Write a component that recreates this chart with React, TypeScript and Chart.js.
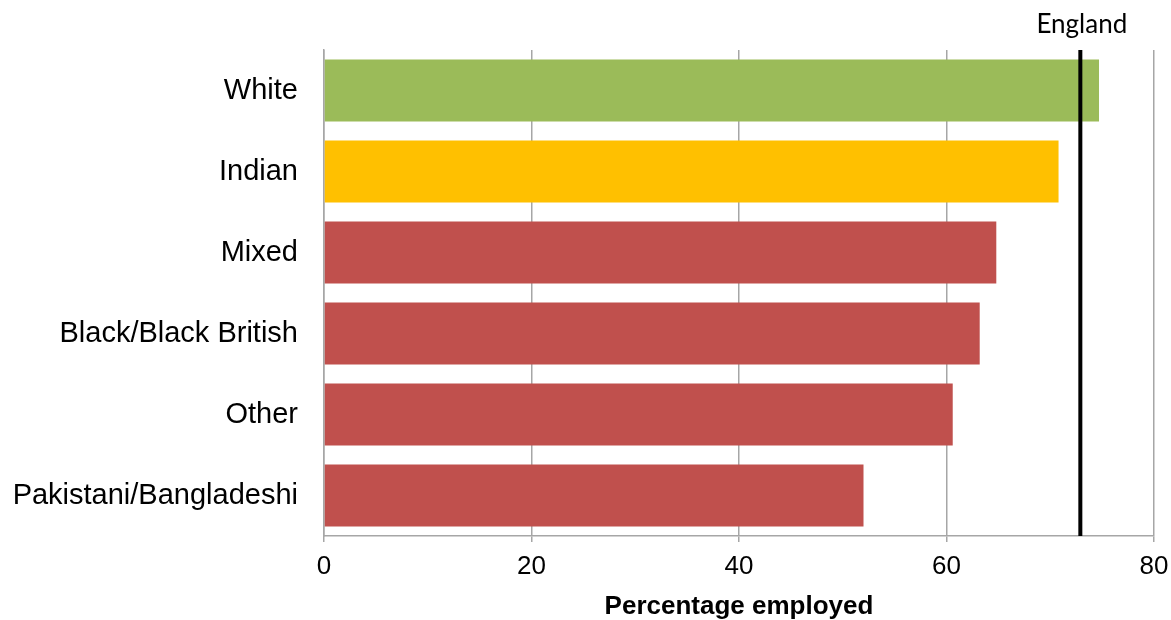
import React, { useEffect, useRef } from "react";
import { Chart, registerables } from "chart.js";

Chart.register(...registerables);

const categories = ["White", "Indian", "Mixed", "Black/Black British", "Other", "Pakistani/Bangladeshi"];
const values = [74.7, 70.8, 64.8, 63.2, 60.6, 52.0];
const barColors = ["#9BBB59", "#FFC000", "#C0504D", "#C0504D", "#C0504D", "#C0504D"];
const englandValue = 72.9;
const englandLabel = "England";
const xTicks = [0, 20, 40, 60, 80];
const xTitle = "Percentage employed";

const englandPlugin = {
  id: "englandLine",
  afterDatasetsDraw(chart: any) {
    const { ctx, chartArea, scales } = chart;
    const x = scales.x.getPixelForValue(englandValue);
    ctx.save();
    ctx.strokeStyle = "#000000";
    ctx.lineWidth = 4;
    ctx.beginPath();
    ctx.moveTo(x, chartArea.top);
    ctx.lineTo(x, chartArea.bottom);
    ctx.stroke();
    ctx.fillStyle = "#000000";
    ctx.font = "26px Lato";
    ctx.textAlign = "center";
    ctx.textBaseline = "alphabetic";
    ctx.fillText(englandLabel, x + 1.5, 33);
    ctx.restore();
  },
};

export default function App() {
  const ref = useRef<HTMLCanvasElement>(null);
  useEffect(() => {
    if (!ref.current) return;
    const chart = new Chart(ref.current, {
      type: "bar",
      data: {
        labels: categories,
        datasets: [
          {
            data: values,
            backgroundColor: barColors,
            borderWidth: 0,
            barPercentage: 0.765,
            categoryPercentage: 1,
          },
        ],
      },
      options: {
        indexAxis: "y",
        responsive: false,
        animation: false,
        layout: { padding: { top: 50, right: 17, left: 0, bottom: 0 } },
        plugins: { legend: { display: false }, tooltip: { enabled: false } },
        scales: {
          x: {
            min: 0,
            max: 80,
            afterBuildTicks: (axis: any) => {
              axis.ticks = xTicks.map((v) => ({ value: v }));
            },
            afterFit: (axis: any) => {
              axis.height = 84;
              axis.paddingRight = 0;
              axis.paddingLeft = 0;
            },
            grid: { color: "#A6A6A6", lineWidth: 1.5, tickLength: 6, drawTicks: true },
            border: { color: "#A6A6A6", width: 1.5 },
            ticks: {
              color: "#000000",
              font: { family: "Liberation Sans", size: 26 },
              padding: 9,
              maxRotation: 0,
            },
            title: {
              display: true,
              text: xTitle,
              color: "#000000",
              font: { family: "Liberation Sans", size: 26, weight: "bold", lineHeight: 1.0 },
              padding: { top: 0, bottom: 0 },
            },
          },
          y: {
            afterFit: (axis: any) => {
              axis.width = 324;
              axis.paddingTop = 0;
              axis.paddingBottom = 0;
            },
            grid: { display: false, drawTicks: false },
            border: { color: "#A6A6A6", width: 1.5 },
            ticks: {
              color: "#000000",
              font: { family: "Liberation Sans", size: 29 },
              padding: 26,
            },
          },
        },
      },
      plugins: [englandPlugin],
    });
    return () => chart.destroy();
  }, []);
  return (
    <div style={{ position: "fixed", left: 0, top: 0, width: 1171, height: 620, background: "#fff" }}>
      <canvas ref={ref} width={1171} height={620} />
    </div>
  );
}
